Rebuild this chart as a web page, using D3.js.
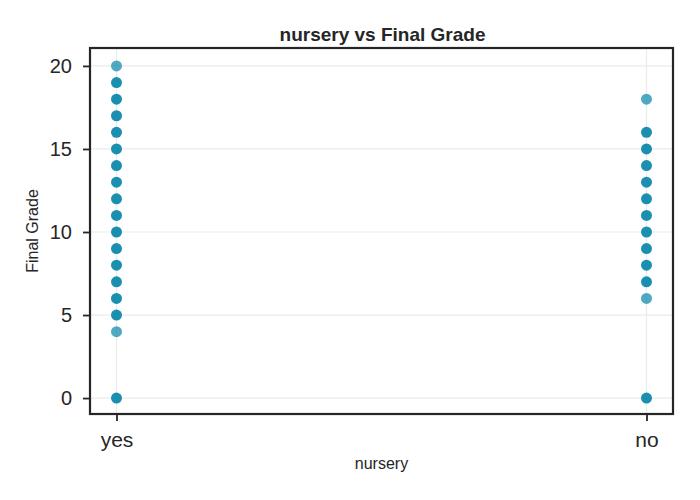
<!DOCTYPE html>
<html>
<head>
<meta charset="utf-8">
<script src="https://cdn.jsdelivr.net/npm/d3@7"></script>
<style>
  body { margin: 0; background: #fff; }
  text { font-family: "Liberation Sans", Arial, sans-serif; fill: #262626; }
</style>
</head>
<body>
<svg id="chart" width="700" height="500"></svg>
<script>
// data -----------------------------------------------------------
var categories = ["yes", "no"];
// grades seen per category, and how many students share each one
var yesGrades = [0, 4, 5, 6, 7, 8, 9, 10, 11, 12, 13, 14, 15, 16, 17, 18, 19, 20];
var yesCounts = [12, 1, 2, 3, 6, 20, 25, 70, 80, 60, 55, 45, 40, 30, 15, 10, 3, 1];
var noGrades = [0, 6, 7, 8, 9, 10, 11, 12, 13, 14, 15, 16, 18];
var noCounts = [3, 1, 2, 5, 8, 15, 20, 14, 12, 10, 8, 5, 1];
var yTicks = [0, 5, 10, 15, 20];

// layout ---------------------------------------------------------
var svg = d3.select("#chart");
var plotLeft = 90, plotRight = 673, plotTop = 48, plotBottom = 414;
var alpha = 0.7;

var x = d3.scaleLinear().domain([-0.05, 1.05]).range([plotLeft, plotRight]);
var y = d3.scaleLinear().domain([-0.96, 21.08]).range([plotBottom, plotTop]);

// grid
svg.append("g").selectAll("line").data(yTicks).enter().append("line")
  .attr("x1", plotLeft).attr("x2", plotRight)
  .attr("y1", d => y(d)).attr("y2", d => y(d))
  .attr("stroke", "#ebebeb").attr("stroke-width", 1.2);
svg.append("g").selectAll("line").data(categories).enter().append("line")
  .attr("x1", (d, i) => x(i)).attr("x2", (d, i) => x(i))
  .attr("y1", plotTop).attr("y2", plotBottom)
  .attr("stroke", "#ebebeb").attr("stroke-width", 1.2);

// points: stacked students at the same spot -> combined opacity
var points = [];
yesGrades.forEach((g, i) => points.push({ c: 0, g: g, n: yesCounts[i] }));
noGrades.forEach((g, i) => points.push({ c: 1, g: g, n: noCounts[i] }));

svg.append("g").selectAll("circle").data(points).enter().append("circle")
  .attr("cx", d => x(d.c)).attr("cy", d => y(d.g)).attr("r", 5.5)
  .attr("fill", "rgb(4,132,168)")
  .attr("fill-opacity", d => 1 - Math.pow(1 - alpha, Math.min(d.n, 2)));

// axes
var yAxis = d3.axisLeft(y).tickValues(yTicks).tickSize(7).tickPadding(11);
var yg = svg.append("g").attr("transform", "translate(" + plotLeft + ",0)").call(yAxis);
yg.select(".domain").remove();
yg.selectAll("line").attr("stroke", "#262626").attr("stroke-width", 1.8);
yg.selectAll("text").attr("font-size", 20).style("fill", "#262626")
  .attr("font-family", "Liberation Sans, Arial, sans-serif");

var xAxis = d3.axisBottom(x).tickValues([0, 1]).tickFormat((d, i) => categories[i]).tickSize(7).tickPadding(11);
var xg = svg.append("g").attr("transform", "translate(0," + plotBottom + ")").call(xAxis);
xg.select(".domain").remove();
xg.selectAll("line").attr("stroke", "#262626").attr("stroke-width", 1.8);
xg.selectAll("text").attr("font-size", 21).style("fill", "#262626")
  .attr("font-family", "Liberation Sans, Arial, sans-serif");

// frame
svg.append("rect")
  .attr("x", plotLeft).attr("y", plotTop)
  .attr("width", plotRight - plotLeft).attr("height", plotBottom - plotTop)
  .attr("fill", "none").attr("stroke", "#262626").attr("stroke-width", 2.2);

// labels
svg.append("text").attr("x", (plotLeft + plotRight) / 2 + 1).attr("y", 41)
  .attr("text-anchor", "middle").attr("font-size", 19).attr("font-weight", "bold")
  .text("nursery vs Final Grade");
svg.append("text").attr("x", (plotLeft + plotRight) / 2).attr("y", 469)
  .attr("text-anchor", "middle").attr("font-size", 16)
  .text("nursery");
svg.append("text")
  .attr("transform", "translate(38," + (plotTop + plotBottom) / 2 + ") rotate(-90)")
  .attr("text-anchor", "middle").attr("font-size", 16)
  .text("Final Grade");
</script>
</body>
</html>
